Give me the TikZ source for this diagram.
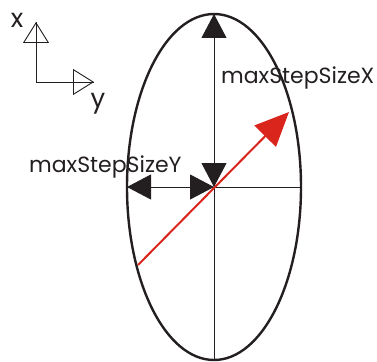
\documentclass[tikz,border=0pt]{standalone}
\usepackage{fontspec}
\setmainfont{Poppins}
\usetikzlibrary{arrows.meta, positioning}
\definecolor{inkblack}{RGB}{35,31,32}
\definecolor{stepred}{RGB}{218,37,29}
\tikzset{
  thinline/.style={draw=inkblack, line width=0.9pt},
  rim/.style={draw=inkblack, line width=2.4pt},
  sizearrow/.style={{Triangle[length=24pt,width=25pt]}-{Triangle[length=24pt,width=25pt]},
                    draw=inkblack, fill=inkblack, line width=0.9pt},
  dirarrow/.style={-{Triangle[open,length=21pt,width=26pt]}, draw=inkblack, line width=0.9pt},
  movearrow/.style={-{Triangle[length=34pt,width=30pt]}, draw=stepred, line width=2pt},
  lbl/.style={font=\fontsize{22}{22}\selectfont, text=inkblack, inner sep=0pt},
  axislbl/.style={lbl, font=\fontsize{26}{26}\selectfont},
}
\begin{document}
\begin{tikzpicture}[x=1pt, y=-1pt]
  \useasboundingbox (0,0) rectangle (377,361);

  % axes legend
  \coordinate (corner) at (36,82);
  \coordinate (xtip) at (36,22);
  \coordinate (ytip) at (94,82);
  \draw[thinline] (xtip) -- (corner) -- (ytip);
  \draw[dirarrow] (corner) -- (xtip);
  \draw[dirarrow] (corner) -- (ytip);
  \node[axislbl, anchor=base] (xlbl) at (17,28) {x};
  \node[axislbl, anchor=base] (ylbl) at (98,107) {y};

  % step ellipse
  \coordinate (centre) at (214,187);
  \draw[rim] (centre) ellipse [x radius=87pt, y radius=173pt];
  \coordinate (top) at (214,14);
  \coordinate (bottom) at (214,361);
  \coordinate (left) at (127,187);
  \coordinate (right) at (302,187);
  \draw[thinline] (top) -- (bottom);
  \draw[thinline] (left) -- (right);

  % step sizes
  \draw[sizearrow] (centre) -- (top);
  \draw[sizearrow] (centre) -- (left);
  \node[lbl, anchor=base west] (sizex) at (221,83) {maxStepSizeX};
  \node[lbl, anchor=base west] (sizey) at (29,172) {maxStepSizeY};

  % move direction
  \coordinate (tail) at (138,265);
  \coordinate (head) at (289,112);
  \draw[movearrow] (tail) -- (head);
\end{tikzpicture}
\end{document}
